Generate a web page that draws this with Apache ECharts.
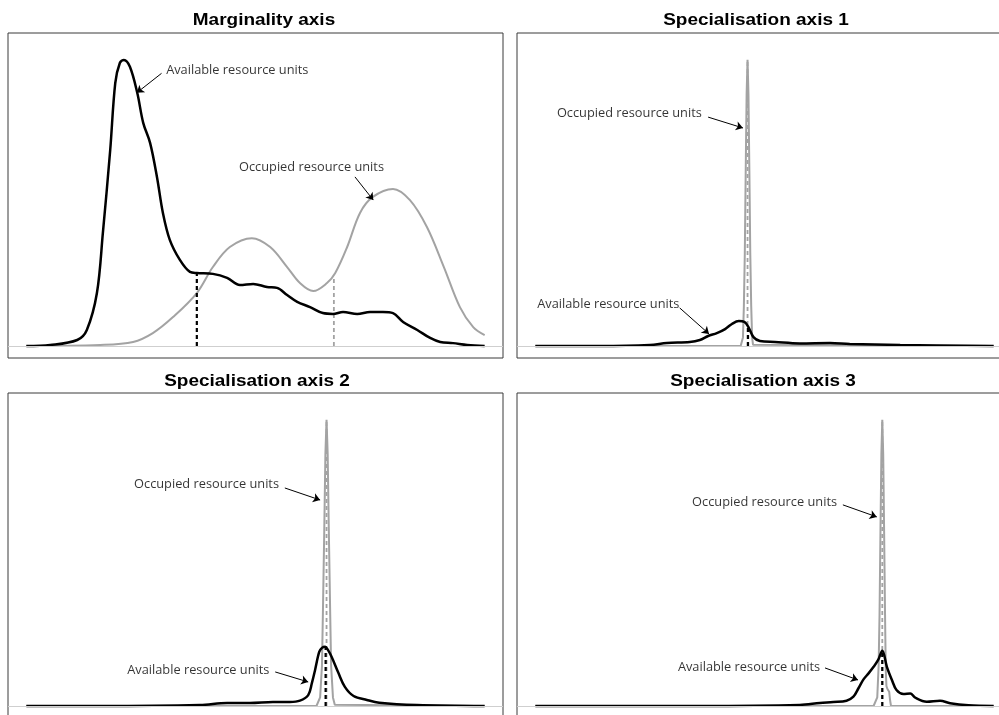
<!DOCTYPE html>
<html>
<head>
<meta charset="utf-8">
<script src="https://cdn.jsdelivr.net/npm/echarts@6/dist/echarts.min.js"></script>
<style>
html,body{margin:0;padding:0;background:#fff;}
#chart{width:999px;height:715px;}
</style>
</head>
<body>
<div id="chart"></div>
<script>
// ---------- DATA (x: position along axis, y: relative density) ----------
const panelTitles = ['Marginality axis', 'Specialisation axis 1', 'Specialisation axis 2', 'Specialisation axis 3'];
const labelAvailable = 'Available resource units';
const labelOccupied = 'Occupied resource units';

// Marginality axis
const margAvailable = [[0,0],[5.2,0.35],[11.1,2.1],[13.2,5.6],[15.4,18.5],[16.7,39.5],[18.3,68.5],[19.4,91.9],[20.4,98.9],[21.3,100],[22.6,97.6],[24.2,88.5],[25.5,78.0],[27.0,71.0],[28.5,59.1],[29.8,46.5],[31.3,37.1],[33.5,30.1],[35.7,25.9],[37.2,25.5],[40.7,25.2],[43.8,23.8],[46.6,21.3],[49.5,21.7],[52.5,20.6],[54.7,20.3],[56.9,17.8],[59.1,15.4],[61.9,13.6],[64.7,11.5],[66.9,11.2],[69.1,11.9],[72.2,11.2],[75.0,11.9],[77.8,11.9],[80.0,11.5],[82.2,8.4],[85.3,5.6],[88.1,2.8],[90.3,1.4],[93.1,1.0],[96.2,0.35],[100,0]];
const margOccupied = [[0,0],[16.1,0.35],[23.3,1.4],[27.6,4.5],[32.0,10.1],[37.2,18.5],[40.7,27.6],[44.4,34.6],[49.2,37.7],[53.2,34.6],[56.9,27.6],[59.7,22.0],[62.6,19.2],[65.6,22.0],[67.4,25.5],[70.0,34.6],[72.8,46.5],[75.6,52.1],[80.0,54.9],[83.7,51.0],[87.4,41.6],[91.1,27.6],[94.6,13.6],[97.5,6.6],[100,3.8]];
const margAvailableMark = [37.2, 25.5];
const margOccupiedMark = [67.1, 24.3];

// Specialisation axis 1
const spec1Available = [[0,0],[14.1,0],[25.0,0.35],[28.7,1.05],[33.7,1.4],[35.9,2.1],[37.7,3.5],[39.6,4.5],[41.4,5.9],[42.9,7.7],[44.4,8.7],[45.6,8.4],[46.5,6.6],[47.6,3.1],[49.0,1.75],[52.3,1.4],[57.7,0.9],[64.3,1.05],[68.6,0.7],[79.6,0.35],[100,0]];
const spec1Occupied = [[0,0],[44.8,0],[45.1,0.4],[45.3,3],[45.5,14],[45.7,32],[45.9,61],[46.1,88],[46.3,100],[46.5,88],[46.7,61],[46.9,32],[47.1,14],[47.3,3],[47.5,0.4],[47.8,0],[100,0]];
const spec1AvailableMark = [46.4, 6.6];
const spec1OccupiedMark = [46.3, 100];

// Specialisation axis 2
const spec2Available = [[0,0],[16.1,0],[37.9,0.35],[43.8,1.05],[48.8,1.05],[53.8,1.4],[57.5,1.4],[59.7,1.85],[61.5,3.8],[62.3,8.0],[63.0,12.6],[63.9,18.9],[64.5,20.3],[65.2,20.7],[65.8,19.6],[66.6,17.2],[68.1,11.5],[69.5,6.7],[71.4,3.5],[74.3,2.1],[77.0,1.15],[85.2,0.35],[100,0]];
const spec2Occupied = [[0,0],[63.3,0],[63.7,0.4],[64.1,3],[64.5,14],[64.7,32],[65.0,61],[65.25,88],[65.5,100],[65.75,88],[66.0,61],[66.3,32],[66.5,14],[66.9,3],[67.3,0.4],[67.7,0],[100,0]];
const spec2AvailableMark = [65.3, 20.8];
const spec2OccupiedMark = [65.5, 100];

// Specialisation axis 3
const spec3Available = [[0,0],[35.9,0],[57.7,0.35],[62.1,1.05],[65.0,1.4],[67.9,1.85],[69.4,3.25],[70.5,6.2],[71.6,9.3],[72.7,11.4],[73.8,13.7],[74.8,16.1],[75.7,19.3],[76.7,13.7],[77.8,9.1],[78.8,5.6],[80.3,4.2],[81.8,4.4],[82.8,3.0],[85.4,1.5],[88.3,1.85],[90.5,0.95],[94.5,0.25],[100,0]];
const spec3Occupied = [[0,0],[73.8,0],[74.2,0.5],[74.6,3],[74.9,14],[75.1,32],[75.3,61],[75.5,88],[75.7,100],[75.9,88],[76.1,61],[76.3,32],[76.45,13],[76.6,7],[76.8,6],[77.2,5],[77.4,2],[77.6,0],[100,0]];
const spec3AvailableMark = [75.7, 19.3];
const spec3OccupiedMark = [75.7, 100];

// annotation anchors (data coords): [textX, textY, arrowFromX, arrowFromY, arrowToX, arrowToY]
const annAvailable = [[30.5,96.5,29.5,95.3,24.1,88.5],[0.4,14.7,31.5,13.3,37.9,4.2],[22.0,12.6,54.3,11.9,61.5,8.4],[31.1,13.6,63.2,13.3,70.4,9.1]];
const annOccupied = [[46.4,62.6,71.7,59.1,75.7,51.0],[4.7,81.4,37.7,80.0,45.3,76.2],[23.5,77.6,56.4,76.2,64.1,72.0],[34.2,71.3,67.1,70.3,74.5,66.1]];

// ---------- CHART ----------
const panels = [
  {avail: margAvailable, occ: margOccupied, am: margAvailableMark, om: margOccupiedMark},
  {avail: spec1Available, occ: spec1Occupied, am: spec1AvailableMark, om: spec1OccupiedMark},
  {avail: spec2Available, occ: spec2Occupied, am: spec2AvailableMark, om: spec2OccupiedMark},
  {avail: spec3Available, occ: spec3Occupied, am: spec3AvailableMark, om: spec3OccupiedMark}
];
const gridPos = [[8,33],[517,33],[8,393],[517,393]];
const titlePos = [[264,20],[756,20],[257,381],[763,381]];
const GREY = '#a3a3a3';
const TXT_FONT = '"Open Sans", "Noto Sans", sans-serif';

const grids = [], xAxes = [], yAxes = [], series = [];
panels.forEach((p, i) => {
  grids.push({left: gridPos[i][0], top: gridPos[i][1], width: 495, height: 325, show: true,
    borderColor: '#3a3a3a', borderWidth: 1, backgroundColor: 'transparent', containLabel: false,
    outerBoundsMode: 'none'});
  xAxes.push({type: 'value', gridIndex: i, min: -4, max: 104, show: false});
  yAxes.push({type: 'value', gridIndex: i, min: -4.2, max: 109.4, show: false});
  // occupied curve + baseline
  series.push({type: 'line', xAxisIndex: i, yAxisIndex: i, data: p.occ, symbol: 'none',
    smooth: i === 0 ? 0.35 : false, lineStyle: {color: GREY, width: 2}, z: 2, silent: true,
    markLine: {silent: true, symbol: 'none', label: {show: false}, animation: false,
      lineStyle: {color: '#cfcfcf', width: 1.2, type: 'solid'}, data: [{yAxis: 0}]}});
  // occupied dashed marker
  series.push({type: 'line', xAxisIndex: i, yAxisIndex: i, data: [[p.om[0], 0], [p.om[0], p.om[1]]],
    symbol: 'none', lineStyle: {color: GREY, width: 1.8, type: [4, 3]}, z: 3, silent: true});
  // available curve
  series.push({type: 'line', xAxisIndex: i, yAxisIndex: i, data: p.avail, symbol: 'none',
    smooth: 0.35, lineStyle: {color: '#000', width: 2.5}, z: 4, silent: true,
    markLine: {silent: true, symbol: ['none', 'arrow'], symbolSize: 7, animation: false,
      label: {show: false}, lineStyle: {color: '#000', width: 1, type: 'solid'},
      data: [annAvailable[i], annOccupied[i]].map(a => [{coord: [a[2], a[3]]}, {coord: [a[4], a[5]]}])}});
  // available dashed marker
  series.push({type: 'line', xAxisIndex: i, yAxisIndex: i, data: [[p.am[0], 0], [p.am[0], p.am[1]]],
    symbol: 'none', lineStyle: {color: '#000', width: 2.2, type: [4, 3]}, z: 5, silent: true});
  // annotation texts
  series.push({type: 'scatter', xAxisIndex: i, yAxisIndex: i, symbolSize: 0, silent: true, z: 6,
    data: [[annAvailable[i][0], annAvailable[i][1], labelAvailable], [annOccupied[i][0], annOccupied[i][1], labelOccupied]],
    label: {show: true, position: 'right', distance: 0, formatter: q => q.value[2],
      color: '#000', fontSize: 12.8, fontFamily: TXT_FONT}});
});

const graphics = panelTitles.map((t, i) => ({
  type: 'text', x: titlePos[i][0], y: titlePos[i][1], scaleX: 1.15, silent: true,
  style: {text: t, fill: '#000', font: 'bold 16.5px "Liberation Sans", Arial, sans-serif',
    align: 'center', verticalAlign: 'middle', textAlign: 'center', textVerticalAlign: 'middle'}
}));

const chart = echarts.init(document.getElementById('chart'), null, {renderer: 'canvas'});
chart.setOption({
  animation: false,
  backgroundColor: '#fff',
  grid: grids, xAxis: xAxes, yAxis: yAxes, series: series, graphic: graphics
});
</script>
</body>
</html>
